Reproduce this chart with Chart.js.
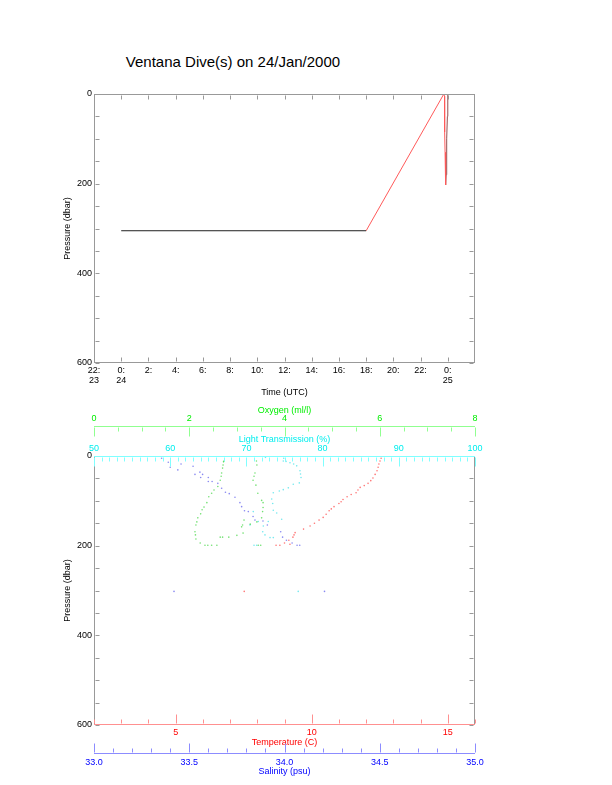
<!DOCTYPE html>
<html>
<head>
<meta charset="utf-8">
<script src="https://cdn.jsdelivr.net/npm/chart.js@4/dist/chart.umd.min.js"></script>
<style>
html,body{margin:0;padding:0;background:#fff;}
#wrap{position:relative;width:612px;height:785px;overflow:hidden;background:#fff;}
#title{position:absolute;left:0;top:54px;width:466px;text-align:center;font:15px "Liberation Sans",Arial,Helvetica,sans-serif;line-height:15px;color:#000;white-space:nowrap;}
canvas{position:absolute;left:0;}
#c1{top:0;}
#c2{top:400px;}
</style>
</head>
<body>
<div id="wrap">
  <div id="title">Ventana Dive(s) on 24/Jan/2000</div>
  <canvas id="c1" width="612" height="400"></canvas>
  <canvas id="c2" width="612" height="385"></canvas>
</div>
<script>
// ---------------- data: upper panel (pressure vs time, hours from 0:00 on 24 Jan) ----------------
const TIME_TICKS  = [-2, 0, 2, 4, 6, 8, 10, 12, 14, 16, 18, 20, 22, 24];
const TIME_LABELS = [["22:", "23"], ["0:", "24"], "2:", "4:", "6:", "8:", "10:", "12:", "14:", "16:", "18:", "20:", "22:", ["0:", "25"]];
const PRES_TICKS  = [0, 200, 400, 600];

const FLAT_TIME = [0, 18];
const FLAT_PRES = [305, 305];
const DOWN_TIME = [18, 23.71, 23.76, 23.77, 23.80, 23.83, 23.85];
const DOWN_PRES = [305, 0, 5, 85, 130, 180, 203];
const UP_TIME   = [23.85, 23.88, 23.92, 23.97, 24.0, 24.0];
const UP_PRES   = [203, 180, 100, 50, 45, 0];

// ---------------- data: lower panel (profiles vs pressure) ----------------
const OXY_TICKS  = [0, 2, 4, 6, 8];
const LT_TICKS   = [50, 60, 70, 80, 90, 100];
const TEMP_TICKS = [5, 10, 15];
const SAL_TICKS  = [33.0, 33.5, 34.0, 34.5, 35.0];

const TEMP_PRES = [0, 5, 11, 18, 25, 33, 41, 49, 55, 61, 66, 70, 76, 82, 86, 91, 97, 102, 106, 113, 118, 122, 130, 137, 143, 150, 156, 163, 171, 176, 181, 188, 194, 199, 199, 197, 302];
const TEMP_VAL  = [12.57, 12.55, 12.51, 12.47, 12.44, 12.40, 12.33, 12.25, 12.17, 12.07, 11.93, 11.78, 11.70, 11.63, 11.45, 11.30, 11.15, 11.08, 11.00, 10.82, 10.72, 10.64, 10.53, 10.42, 10.27, 10.10, 9.94, 9.70, 9.39, 9.35, 9.31, 9.16, 9.00, 8.83, 8.69, 9.20, 7.52];

const SAL_PRES = [0, 5, 14, 25, 31, 18, 23, 41, 36, 41, 48, 48, 57, 57, 61, 72, 81, 84, 92, 104, 113, 122, 124, 135, 143, 145, 154, 169, 181, 188, 194, 199, 199, 302, 302];
const SAL_VAL  = [33.32, 33.355, 33.39, 33.40, 33.44, 33.457, 33.52, 33.53, 33.556, 33.57, 33.56, 33.60, 33.60, 33.62, 33.65, 33.67, 33.69, 33.71, 33.74, 33.766, 33.775, 33.79, 33.81, 33.835, 33.845, 33.887, 33.91, 33.98, 33.99, 34.01, 34.04, 34.066, 34.08, 33.42, 34.21];

const OXY_PRES = [11, 13, 20, 27, 38, 45, 54, 68, 76, 83, 91, 104, 114, 120, 129, 138, 147, 154, 169, 176, 185, 194, 199, 199, 199, 199, 181, 181, 181, 177, 158, 172, 154, 143, 11, 20, 38, 45, 54, 65, 83, 99, 104, 115, 124, 138, 147, 152, 199, 199];
const OXY_VAL  = [2.73, 2.72, 2.71, 2.70, 2.68, 2.67, 2.65, 2.60, 2.52, 2.47, 2.41, 2.37, 2.31, 2.27, 2.24, 2.18, 2.16, 2.14, 2.12, 2.13, 2.14, 2.23, 2.33, 2.39, 2.47, 2.58, 2.65, 2.70, 2.83, 3.00, 3.10, 3.13, 3.12, 3.15, 3.41, 3.42, 3.38, 3.36, 3.34, 3.40, 3.44, 3.52, 3.55, 3.55, 3.54, 3.52, 3.42, 3.28, 3.45, 3.50];

const LT_PRES = [3, 5, 11, 12, 15, 18, 22, 33, 40, 48, 60, 63, 71, 75, 78, 82, 96, 106, 121, 127, 141, 146, 156, 169, 176, 182, 182, 199, 199, 124, 146, 154, 302];
const LT_VAL  = [72.5, 74.9, 74.84, 75.2, 75.72, 76.2, 76.6, 77.03, 77.1, 77.17, 76.94, 76.15, 75.5, 74.84, 74.32, 73.53, 73.32, 73.45, 73.53, 73.98, 74.63, 72.87, 72.22, 72.14, 72.44, 73.1, 73.53, 71.35, 71.0, 70.9, 71.56, 70.47, 76.8];

// ---------------- helpers ----------------
const FONT = '"Liberation Sans", Arial, Helvetica, sans-serif';
const GRAY = '#999999';
const TICK_FONT = {family: FONT, size: 9, lineHeight: 1.1};
const TITLE_FONT = {family: FONT, size: 9, lineHeight: 1.2};
const pts = (xs, ys) => xs.map((v, i) => ({x: v, y: ys[i]}));
const setTicks = list => s => { s.ticks = list.map(v => ({value: v})); };
const hSize = h => s => { s.height = h; };
const wSize = w => s => { s.width = w; };
const noGrid = {display: false, drawTicks: false, drawOnChartArea: false};
const noBorder = {display: false};

// draws IDL-style axis lines + tick marks through the chart's scales
function axisPlugin(items) {
  return {
    id: 'idlAxes',
    afterDatasetsDraw(chart) {
      const ctx = chart.ctx, ca = chart.chartArea;
      const edgePx = e => {
        if (e === 'top') return ca.top;
        if (e === 'bottom') return ca.bottom;
        if (e === 'left') return ca.left;
        if (e === 'right') return ca.right;
        const parts = e.split(':');
        return chart.scales[parts[1]][parts[0]];
      };
      ctx.save();
      ctx.lineWidth = 1;
      items.forEach(it => {
        const s = chart.scales[it.scale];
        const horiz = s.isHorizontal();
        const at = Math.round(edgePx(it.edge)) + (it.dir > 0 ? 0.5 : -0.5);
        ctx.strokeStyle = it.color;
        ctx.beginPath();
        const a = s.getPixelForValue(it.lfrom !== undefined ? it.lfrom : it.from);
        const b = s.getPixelForValue(it.lto !== undefined ? it.lto : it.to);
        const lo = Math.round(Math.min(a, b)), hi = Math.round(Math.max(a, b));
        if (horiz) { ctx.moveTo(lo, at); ctx.lineTo(hi, at); }
        else { ctx.moveTo(at, lo); ctx.lineTo(at, hi); }
        ctx.stroke();
        ctx.beginPath();
        const n = Math.round((it.to - it.from) / it.step);
        for (let i = 0; i <= n; i++) {
          const v = it.from + i * it.step;
          const major = it.major ? Math.abs(v / it.major - Math.round(v / it.major)) < 1e-6 : false;
          const len = major ? it.majorLen : it.minorLen;
          const p = Math.round(s.getPixelForValue(v)) + 0.5;
          const start = at + it.dir * 1;
          if (horiz) { ctx.moveTo(p, start); ctx.lineTo(p, at + it.dir * len); }
          else { ctx.moveTo(start, p); ctx.lineTo(at + it.dir * len, p); }
        }
        ctx.stroke();
      });
      ctx.restore();
    }
  };
}

const baseOpts = {
  responsive: false,
  animation: false,
  events: [],
  layout: {padding: 0},
  plugins: {legend: {display: false}, tooltip: {enabled: false}, title: {display: false}}
};

// ---------------- upper chart ----------------
new Chart(document.getElementById('c1'), {
  type: 'scatter',
  data: {
    datasets: [
      {data: pts(FLAT_TIME, FLAT_PRES), showLine: true, borderColor: '#202020', borderWidth: 1, pointRadius: 0},
      {data: pts(DOWN_TIME, DOWN_PRES), showLine: true, borderColor: '#ff5a5a', borderWidth: 1, pointRadius: 0},
      {data: pts(UP_TIME, UP_PRES), showLine: true, borderColor: '#905050', borderWidth: 1, pointRadius: 0}
    ]
  },
  options: Object.assign({}, baseOpts, {
    scales: {
      x: {
        type: 'linear', position: 'bottom', min: -2, max: 26,
        afterBuildTicks: setTicks(TIME_TICKS), afterFit: hSize(37),
        grid: noGrid, border: noBorder,
        ticks: {autoSkip: false, maxRotation: 0, minRotation: 0, padding: 3, color: '#000', font: TICK_FONT,
                callback: (v, i) => TIME_LABELS[i]},
        title: {display: true, text: 'Time (UTC)', color: '#000', font: TITLE_FONT, padding: {top: 0, bottom: 2.3}}
      },
      xTop: {
        type: 'linear', position: 'top', min: -2, max: 26,
        afterFit: hSize(94), grid: noGrid, border: noBorder, ticks: {display: false}
      },
      y: {
        type: 'linear', position: 'left', reverse: true, min: 0, max: 600,
        afterBuildTicks: setTicks(PRES_TICKS), afterFit: wSize(94),
        grid: noGrid, border: noBorder,
        ticks: {padding: 2, color: '#000', font: TICK_FONT},
        title: {display: true, text: 'Pressure (dbar)', color: '#000', font: TITLE_FONT, padding: {top: 62.6, bottom: 0}}
      },
      yRight: {
        type: 'linear', position: 'right', reverse: true, min: 0, max: 600,
        afterFit: wSize(137), grid: noGrid, border: noBorder, ticks: {display: false}
      }
    }
  }),
  plugins: [axisPlugin([
    {scale: 'x', edge: 'bottom', dir: -1, from: -2, to: 24, lto: 26, step: 2, major: 2, majorLen: 5, minorLen: 5, color: GRAY},
    {scale: 'x', edge: 'top', dir: 1, from: -2, to: 24, lto: 26, step: 2, major: 2, majorLen: 5, minorLen: 5, color: GRAY},
    {scale: 'y', edge: 'left', dir: 1, from: 0, to: 600, step: 50, major: 200, majorLen: 5, minorLen: 5, color: GRAY},
    {scale: 'y', edge: 'right', dir: -1, from: 0, to: 600, step: 50, major: 200, majorLen: 5, minorLen: 5, color: GRAY}
  ])]
});

// ---------------- lower chart ----------------
const dot = (col) => ({showLine: false, pointRadius: 0.8, pointBorderWidth: 0, pointBackgroundColor: col, yAxisID: 'y'});
new Chart(document.getElementById('c2'), {
  type: 'scatter',
  data: {
    datasets: [
      Object.assign({data: pts(OXY_VAL, OXY_PRES), xAxisID: 'xO'}, dot('rgba(0,200,0,0.55)')),
      Object.assign({data: pts(LT_VAL, LT_PRES), xAxisID: 'xL'}, dot('rgba(0,215,225,0.55)')),
      Object.assign({data: pts(SAL_VAL, SAL_PRES), xAxisID: 'xS'}, dot('rgba(40,40,230,0.55)')),
      Object.assign({data: pts(TEMP_VAL, TEMP_PRES), xAxisID: 'xT'}, dot('rgba(255,0,0,0.55)'))
    ]
  },
  options: Object.assign({}, baseOpts, {
    scales: {
      xO: {
        type: 'linear', position: 'top', weight: 1, min: 0, max: 8,
        afterBuildTicks: setTicks(OXY_TICKS), afterFit: hSize(26),
        grid: noGrid, border: noBorder,
        ticks: {autoSkip: false, maxRotation: 0, minRotation: 0, padding: 3, color: '#00ee00', font: TICK_FONT},
        title: {display: true, text: 'Oxygen (ml/l)', color: '#00ee00', font: TITLE_FONT, padding: {top: 5.3, bottom: 0}}
      },
      xL: {
        type: 'linear', position: 'top', weight: 0, min: 50, max: 100,
        afterBuildTicks: setTicks(LT_TICKS), afterFit: hSize(30),
        grid: noGrid, border: noBorder,
        ticks: {autoSkip: false, maxRotation: 0, minRotation: 0, padding: 2.7, color: '#00eeee', font: TICK_FONT},
        title: {display: true, text: 'Light Transmission (%)', color: '#00eeee', font: TITLE_FONT, padding: {top: 8.6, bottom: 0}}
      },
      xT: {
        type: 'linear', position: 'bottom', weight: 0, min: 2, max: 16,
        afterBuildTicks: setTicks(TEMP_TICKS), afterFit: hSize(29),
        grid: noGrid, border: noBorder,
        ticks: {autoSkip: false, maxRotation: 0, minRotation: 0, padding: 2.4, color: '#ff0000', font: TICK_FONT},
        title: {display: true, text: 'Temperature (C)', color: '#ff0000', font: TITLE_FONT, padding: {top: 0, bottom: 6.3}}
      },
      xS: {
        type: 'linear', position: 'bottom', weight: 1, min: 33, max: 35,
        afterBuildTicks: setTicks(SAL_TICKS), afterFit: hSize(31),
        grid: noGrid, border: noBorder,
        ticks: {autoSkip: false, maxRotation: 0, minRotation: 0, padding: 3.4, color: '#0000ff', font: TICK_FONT,
                callback: v => Number(v).toFixed(1)},
        title: {display: true, text: 'Salinity (psu)', color: '#0000ff', font: TITLE_FONT, padding: {top: 0, bottom: 7.9}}
      },
      y: {
        type: 'linear', position: 'left', reverse: true, min: 0, max: 600,
        afterBuildTicks: setTicks(PRES_TICKS), afterFit: wSize(94),
        grid: noGrid, border: noBorder,
        ticks: {padding: 2, color: '#000', font: TICK_FONT},
        title: {display: true, text: 'Pressure (dbar)', color: '#000', font: TITLE_FONT, padding: {top: 62.6, bottom: 0}}
      },
      yRight: {
        type: 'linear', position: 'right', reverse: true, min: 0, max: 600,
        afterFit: wSize(137), grid: noGrid, border: noBorder, ticks: {display: false}
      }
    }
  }),
  plugins: [axisPlugin([
    {scale: 'y', edge: 'left', dir: 1, from: 0, to: 600, step: 50, major: 200, majorLen: 5, minorLen: 5, color: GRAY},
    {scale: 'y', edge: 'right', dir: -1, from: 0, to: 600, step: 50, major: 200, majorLen: 5, minorLen: 5, color: GRAY},
    {scale: 'xL', edge: 'top', dir: 1, from: 50, to: 100, step: 1, major: 10, majorLen: 10, minorLen: 5, color: '#80ffff'},
    {scale: 'xO', edge: 'bottom:xO', dir: 1, from: 0, to: 8, step: 0.5, major: 2, majorLen: 10, minorLen: 5, color: '#90ff90'},
    {scale: 'xT', edge: 'bottom', dir: -1, from: 2, to: 16, step: 1, major: 5, majorLen: 10, minorLen: 5, color: '#ff9090'},
    {scale: 'xS', edge: 'top:xS', dir: -1, from: 33, to: 35, step: 0.1, major: 0.5, majorLen: 10, minorLen: 5, color: '#8c8cff'}
  ])]
});
</script>
</body>
</html>
